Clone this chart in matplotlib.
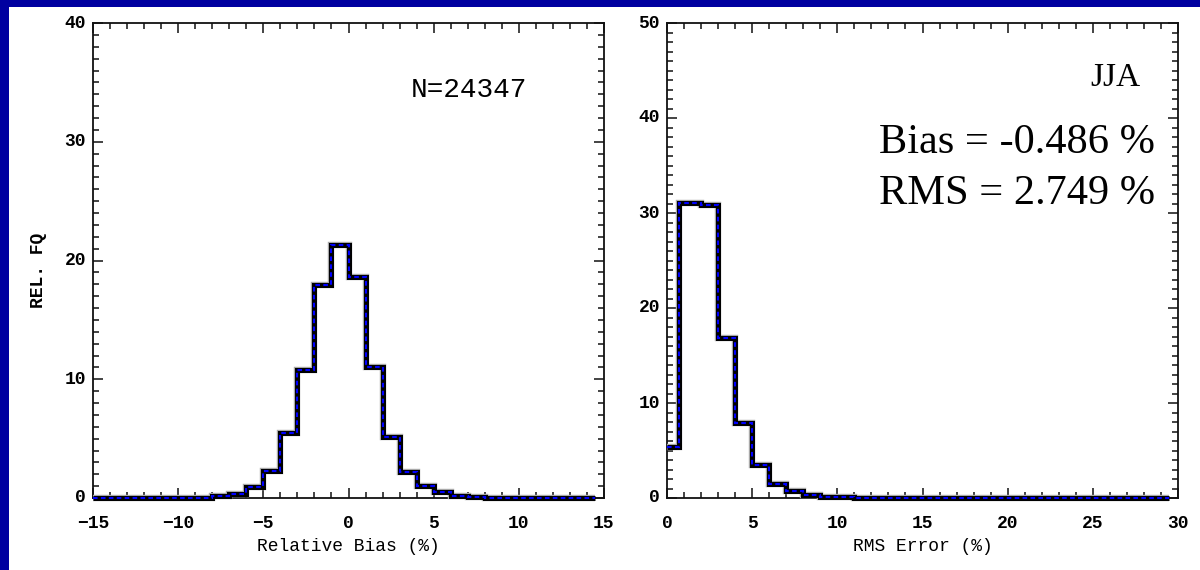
import matplotlib
matplotlib.use("Agg")
import matplotlib.pyplot as plt
from matplotlib.ticker import MultipleLocator

# ---- data ----
bias_edges = list(range(-15, 15)) + [14.5]
bias_freq = [0, 0, 0, 0, 0, 0, 0,
             0.15, 0.35, 0.95, 2.3, 5.5, 10.8, 17.9, 21.3,
             18.6, 11.0, 5.1, 2.2, 1.0, 0.5, 0.15, 0.1,
             0, 0, 0, 0, 0, 0, 0]

rms_edges = [0, 0.7] + list(range(2, 30)) + [29.5]
rms_freq = [5.4, 31.1, 30.8, 16.8, 7.9, 3.5, 1.5, 0.75, 0.3, 0.15, 0.12] + [0] * 19

bias_xlim = (-15, 15)
bias_ylim = (0, 40)
rms_xlim = (0, 30)
rms_ylim = (0, 50)

n_text = "N=24347"
season = "JJA"
bias_text = "Bias = -0.486 %"
rms_text = "RMS = 2.749 %"

W, H = 1200, 570
fig = plt.figure(figsize=(W / 100, H / 100), dpi=100)
fig.patch.set_facecolor("#0000A0")
# white panel (blue strip only on top and left)
fig.add_artist(plt.Rectangle((9 / W, 0), 1, 1 - 7 / H, transform=fig.transFigure,
                             facecolor="white", edgecolor="none", zorder=0))

mono = "Liberation Mono"
serif = "Liberation Serif"

def style_axes(ax, xlim, ylim, xmaj, ymaj):
    ax.set_xlim(*xlim)
    ax.set_ylim(*ylim)
    ax.xaxis.set_major_locator(MultipleLocator(xmaj))
    ax.xaxis.set_minor_locator(MultipleLocator(1))
    ax.yaxis.set_major_locator(MultipleLocator(ymaj))
    ax.yaxis.set_minor_locator(MultipleLocator(1))
    ax.tick_params(which="both", direction="in", top=True, right=True,
                   width=1.1, color="#111111")
    ax.tick_params(which="major", length=7.5)
    ax.tick_params(which="minor", length=4)
    ax.tick_params(axis="x", which="major", pad=12)
    ax.tick_params(axis="y", which="major", pad=5)
    for s in ax.spines.values():
        s.set_linewidth(1.3)
        s.set_color("#111111")
    for lab in ax.get_xticklabels() + ax.get_yticklabels():
        lab.set_family(mono)
        lab.set_fontsize(13)
        lab.set_fontweight("bold")
    for lab in ax.get_yticklabels():
        lab.set_va("center")

def draw_hist(ax, vals, edges):
    ax.stairs(vals, edges, baseline=None, color="#a8a8a8", linewidth=4.6,
              clip_on=False, zorder=3)
    ax.stairs(vals, edges, baseline=None, color="black", linewidth=3.6,
              clip_on=False, zorder=4)
    ax.stairs(vals, edges, baseline=None, color="#0000FF", linewidth=1.5,
              linestyle=(0, (2.2, 1.6)), clip_on=False, zorder=5)

ax1 = fig.add_axes([93 / W, 72 / H, 511 / W, 475 / H])
ax2 = fig.add_axes([667 / W, 72 / H, 511 / W, 475 / H])

draw_hist(ax1, bias_freq, bias_edges)
draw_hist(ax2, rms_freq, rms_edges)

style_axes(ax1, bias_xlim, bias_ylim, 5, 10)
style_axes(ax2, rms_xlim, rms_ylim, 5, 10)

ax1.set_xlabel("Relative Bias (%)", family=mono, fontsize=13)
ax1.xaxis.label.set_va("center")
ax1.xaxis.set_label_coords(0.5, -0.102)
ax1.set_ylabel("REL. FQ", family=mono, fontsize=13, fontweight="bold")
ax1.yaxis.label.set_va("center")
ax1.yaxis.set_label_coords(-0.106, 0.48)

ax2.set_xlabel("RMS Error (%)", family=mono, fontsize=13)
ax2.xaxis.label.set_va("center")
ax2.xaxis.set_label_coords(0.5, -0.102)

ax1.text(0.622, 0.845, n_text, transform=ax1.transAxes, family=mono,
         fontsize=20, ha="left", va="baseline")

ax2.text(0.926, 0.867, season, transform=ax2.transAxes, family=serif,
         fontsize=24, ha="right", va="baseline")
ax2.text(0.955, 0.726, bias_text, transform=ax2.transAxes, family=serif,
         fontsize=30.5, ha="right", va="baseline")
ax2.text(0.955, 0.619, rms_text, transform=ax2.transAxes, family=serif,
         fontsize=30.5, ha="right", va="baseline")

fig.savefig("out.png", dpi=100, facecolor=fig.get_facecolor())
